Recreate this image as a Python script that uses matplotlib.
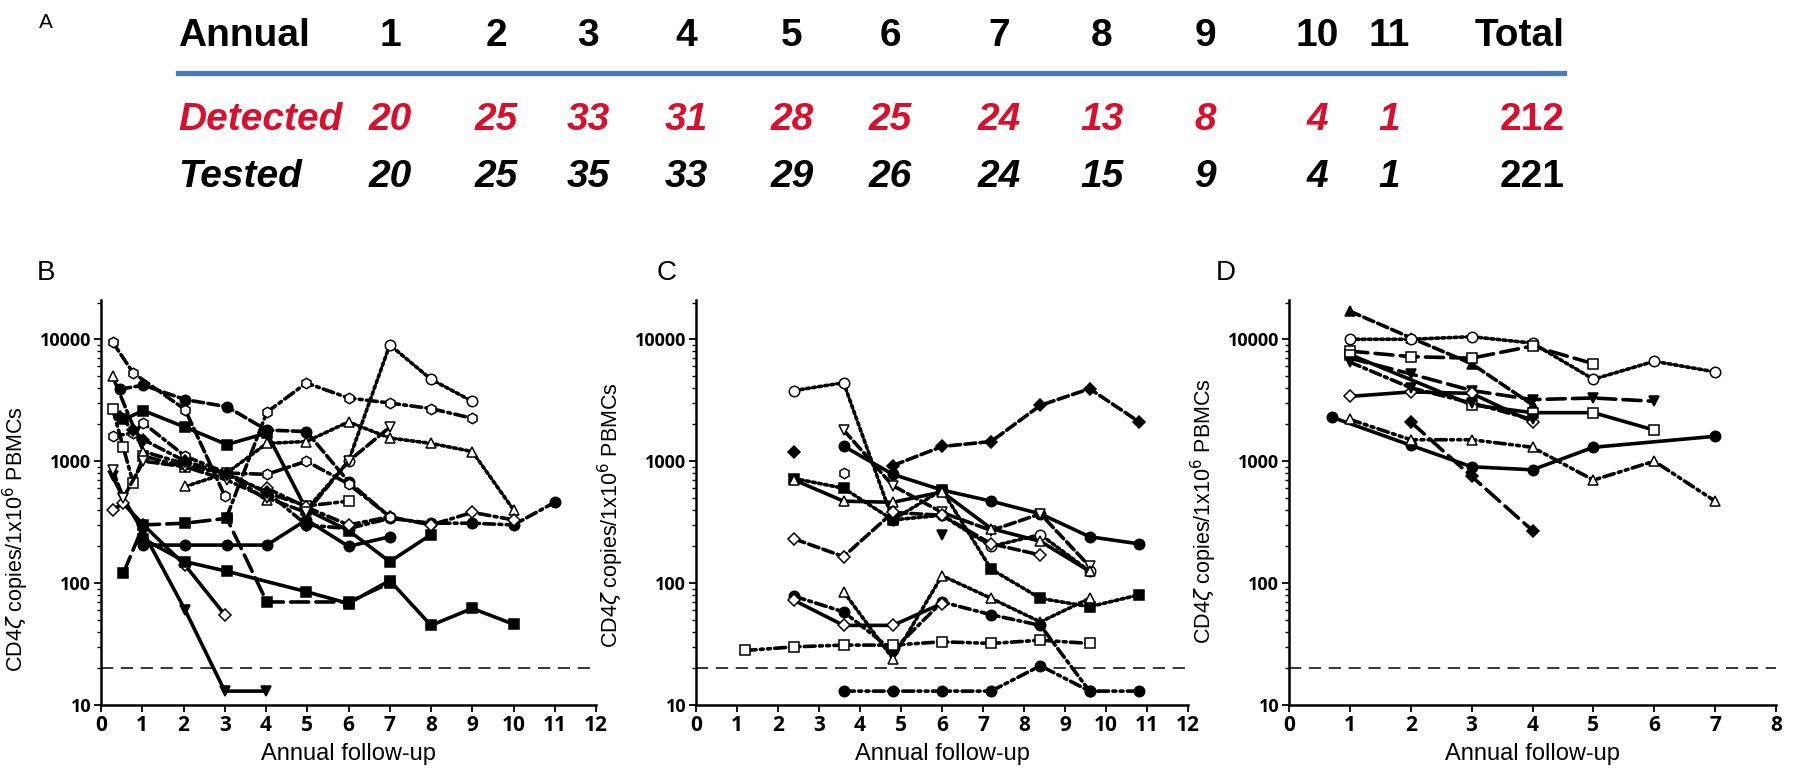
import matplotlib.pyplot as plt

# ---- panel A table ----
years = ['1', '2', '3', '4', '5', '6', '7', '8', '9', '10', '11']
detected = [20, 25, 33, 31, 28, 25, 24, 13, 8, 4, 1]
tested = [20, 25, 35, 33, 29, 26, 24, 15, 9, 4, 1]
detected_total = 212
tested_total = 221

# ---- panel B: x = years, y = copies per 1e6 PBMC ----
b_x = [
    [0.28, 0.78, 2.04, 3.0],
    [3.05, 4.02, 4.98, 6.0, 7.0, 8.0, 9.0],
    [4.98, 6.0, 7.0, 8.0, 9.0],
    [2.04, 3.05, 4.02, 4.98, 6.0, 7.0, 8.0, 9.0, 10.0],
    [0.46, 1.03, 2.04, 3.05, 4.02, 4.98, 6.0, 7.0],
    [0.54, 1.03, 2.04, 3.05, 4.02, 4.98, 6.0, 7.0, 8.0],
    [0.28, 0.54, 0.78, 1.03, 2.04, 3.05, 4.02, 4.98, 6.0],
    [4.98, 6.0, 7.0, 8.0, 9.0, 10.0, 11.0],
    [4.02, 4.98, 6.0, 7.0, 8.0, 9.0, 10.0],
    [1.03, 2.04, 3.05, 4.02, 4.98, 6.0, 7.0],
    [0.28, 0.54, 1.03, 2.04, 3.0, 4.0],
    [0.28, 0.54, 1.03, 2.04, 3.0],
    [0.54, 1.03, 2.04, 3.05, 4.02, 6.0, 7.0],
    [1.03, 2.04, 3.05, 4.98, 6.0, 7.0, 8.0, 9.0, 10.0],
    [0.28, 1.03, 2.04, 3.05, 4.02],
    [0.28, 0.78, 1.03, 2.04, 3.05, 4.02, 4.98, 6.0, 7.0],
    [0.28, 0.54, 1.03, 2.04, 3.05, 4.02, 4.98, 6.0, 7.0],
    [0.46, 0.78, 1.03, 2.04, 3.05, 4.02, 4.98],
]
b_y = [
    [9500, 5300, 2650, 520],
    [350, 2520, 4380, 3300, 3000, 2700, 2250],
    [400, 1000, 9000, 4700, 3100],
    [620, 800, 1400, 1450, 2100, 1550, 1400, 1200, 400],
    [3900, 4200, 3200, 2800, 1800, 1750, 680, 350],
    [2200, 2600, 1900, 1370, 1700, 400, 270, 150, 250],
    [2700, 1300, 660, 1100, 900, 800, 550, 430, 470],
    [300, 280, 340, 310, 310, 300, 460],
    [600, 420, 300, 350, 300, 380, 330],
    [205, 205, 205, 205, 330, 200, 240],
    [750, 500, 260, 60, 13, 13],
    [400, 450, 300, 140, 55],
    [120, 300, 310, 340, 70, 70, 100],
    [230, 150, 125, 85, 68, 105, 45, 62, 46],
    [5000, 1200, 950, 800, 480],
    [1600, 1700, 2050, 1100, 800, 780, 1000, 650, 350],
    [850, 500, 1000, 900, 700, 500, 380, 1000, 1900],
    [2300, 1800, 1500, 1000, 780, 560, 300],
]
b_mk = ['h', 'h', 'o', '^', 'o', 's', 's', 'o', 'D', 'o', 'v', 'D', 's', 's', '^', 'h', 'v', 'D']
b_open = [1, 1, 1, 1, 0, 0, 1, 0, 1, 0, 0, 1, 0, 0, 1, 1, 1, 0]
b_ls = ['dash', 'dashdot', 'dot', 'dot', 'dash', 'solid', 'dashdot', 'dashdot', 'dashdot',
        'solid', 'solid', 'solid', 'longdash', 'solid', 'dashdot', 'dashdot', 'dash', 'dashdot']

# ---- panel C ----
c_x = [
    [2.4, 3.6, 4.8, 6.0, 7.2, 8.4, 9.6],
    [4.8, 6.0, 7.2, 8.4, 9.6, 10.8],
    [2.4],
    [3.6, 4.8, 6.0, 7.2, 8.4, 9.6, 10.8],
    [3.6, 4.8, 6.0, 7.2, 8.4, 9.6],
    [2.4, 3.6, 4.8, 6.0, 7.2, 8.4, 9.6, 10.8],
    [2.4, 3.6, 4.8, 6.0, 7.2, 8.4, 9.6],
    [2.4, 3.6, 4.8, 6.0, 7.2, 8.4],
    [3.6, 4.8, 6.0, 7.2, 8.4, 9.6],
    [2.4, 3.6, 4.8, 6.0, 7.2, 8.4, 9.6],
    [2.4, 3.6, 4.8, 6.0],
    [1.2, 2.4, 3.6, 4.8, 6.0, 7.2, 8.4, 9.6],
    [3.6, 4.8, 6.0, 7.2, 8.4, 9.6, 10.8],
    [3.6],
    [6.0],
]
c_y = [
    [3800, 4400, 330, 360, 200, 250, 125],
    [920, 1320, 1450, 2870, 3930, 2110],
    [1200],
    [1330, 780, 580, 470, 370, 240, 210],
    [1800, 630, 380, 270, 370, 137],
    [720, 600, 330, 580, 130, 75, 64, 80],
    [700, 470, 460, 560, 280, 220, 125],
    [230, 165, 380, 360, 210, 170],
    [85, 24, 115, 75, 48, 75],
    [78, 58, 28, 70, 55, 45, 13],
    [72, 45, 45, 68],
    [28, 30, 31, 31, 33, 32, 34, 32],
    [13, 13, 13, 13, 21, 13, 13],
    [800],
    [250],
]
c_mk = ['o', 'D', 'D', 'o', 'v', 's', '^', 'D', '^', 'o', 'D', 's', 'o', 'h', 'v']
c_open = [1, 0, 0, 0, 1, 0, 1, 1, 1, 0, 1, 1, 0, 1, 0]
c_ls = ['dot', 'dash', 'solid', 'solid', 'dash', 'dot', 'solid', 'dash', 'dot',
        'dashdot', 'solid', 'dashdotdot', 'dashdotdot', 'solid', 'solid']

# ---- panel D ----
d_x = [
    [1, 2, 3, 4],
    [1, 2, 3, 4, 5, 6, 7],
    [1, 2, 3, 4, 5],
    [1, 2, 3, 4, 5, 6],
    [1, 2, 3, 4],
    [1, 3, 4, 5, 6],
    [0.7, 2, 3, 4, 5, 7],
    [1, 2, 3, 4, 5, 6, 7],
    [2, 3, 4],
    [1, 2, 3, 4],
]
d_y = [
    [17000, 10300, 6300, 2900],
    [10000, 10000, 10500, 9300, 4700, 6600, 5400],
    [8000, 7200, 7000, 8800, 6300],
    [7000, 5200, 3800, 3200, 3300, 3100],
    [3400, 3700, 3600, 2100],
    [7500, 2900, 2500, 2500, 1800],
    [2300, 1350, 900, 850, 1300, 1600],
    [2200, 1500, 1500, 1300, 700, 1000, 470],
    [2100, 750, 270],
    [6500, 4000, 3000, 2200],
]
d_mk = ['^', 'o', 's', 'v', 'D', 's', 'o', '^', 'D', 'v']
d_open = [0, 1, 1, 0, 1, 1, 0, 1, 0, 0]
d_ls = ['dash', 'dot', 'longdash', 'longdash', 'solid', 'solid', 'solid', 'dashdotdot', 'longdash', 'dashdot']

threshold = 20

styles = {
    'solid': '-',
    'dash': (0, (3, 1.2)),
    'longdash': (0, (5, 2)),
    'dot': (0, (0.8, 0.9)),
    'dashdot': (0, (3, 1.2, 0.8, 1.2)),
    'dashdotdot': (0, (3, 1.2, 0.8, 1.2, 0.8, 1.2)),
}

fig = plt.figure(figsize=(18, 7.71), dpi=100)
W, H = 1800, 771

# ---- table (panel A) ----
tf = 'Liberation Sans'
red = '#d9102d'
col_x = [390, 496, 588, 686, 792, 890, 999, 1102, 1205, 1317, 1389]
row_y = [36, 120, 177]
fs = 28
fig.text(46 / W, 1 - 22 / H, 'A', fontsize=15, family=tf, va='center', ha='center')
fig.text(178 / W, 1 - row_y[0] / H, 'Annual', fontsize=fs, fontweight='bold', family=tf, va='center')
fig.text(178 / W, 1 - row_y[1] / H, 'Detected', fontsize=fs, fontweight='bold', style='italic',
         color=red, family=tf, va='center')
fig.text(178 / W, 1 - row_y[2] / H, 'Tested', fontsize=fs, fontweight='bold', style='italic',
         family=tf, va='center')
for xp, yr, d, t in zip(col_x, years, detected, tested):
    fig.text(xp / W, 1 - row_y[0] / H, yr, fontsize=fs, fontweight='bold', family=tf,
             ha='center', va='center')
    fig.text(xp / W, 1 - row_y[1] / H, str(d), fontsize=fs, fontweight='bold', style='italic',
             color=red, family=tf, ha='center', va='center')
    fig.text(xp / W, 1 - row_y[2] / H, str(t), fontsize=fs, fontweight='bold', style='italic',
             family=tf, ha='center', va='center')
fig.text(1565 / W, 1 - row_y[0] / H, 'Total', fontsize=fs, fontweight='bold', family=tf,
         ha='right', va='center')
fig.text(1565 / W, 1 - row_y[1] / H, str(detected_total), fontsize=fs, fontweight='bold',
         color=red, family=tf, ha='right', va='center')
fig.text(1565 / W, 1 - row_y[2] / H, str(tested_total), fontsize=fs, fontweight='bold',
         family=tf, ha='right', va='center')
fig.add_artist(plt.Line2D([178 / W, 1564 / W], [1 - 73 / H, 1 - 73 / H], color='#4a7cba', lw=3.8))

# ---- plots ----
panels = [
    ('B', 101, 596, 12, 46, 0.41, b_x, b_y, b_mk, b_open, b_ls),
    ('C', 696, 1188, 12, 667, 0.47, c_x, c_y, c_mk, c_open, c_ls),
    ('D', 1289, 1776, 8, 1226, 0.48, d_x, d_y, d_mk, d_open, d_ls),
]
for lab, x0, x1, xmax, labx, ylab_y, xs, ys, mks, opens, lss in panels:
    ax = fig.add_axes([x0 / W, 1 - 705 / H, (x1 - x0) / W, (705 - 300) / H])
    ax.set_yscale('log')
    ax.set_xlim(0, xmax)
    ax.set_ylim(10, 21000)
    ax.axhline(threshold, color='k', lw=1.1, ls=(0, (8, 5)), zorder=1)
    for x, y, m, o, s in zip(xs, ys, mks, opens, lss):
        ax.plot(x, y, color='k', lw=2.6, ls=styles[s], marker=m, ms=7.5 if m != 'D' else 6.5,
                mfc='white' if o else 'k', mec='k', mew=1.1, dash_capstyle='round', zorder=2)
    for sp in ['top', 'right']:
        ax.spines[sp].set_visible(False)
    ax.spines['left'].set_linewidth(1.8)
    ax.spines['bottom'].set_linewidth(1.8)
    ax.set_xticks(range(xmax + 1))
    ax.set_yticks([10, 100, 1000, 10000])
    ax.set_yticklabels(['10', '100', '1000', '10000'])
    ax.tick_params(axis='both', which='major', direction='out', length=5, width=1.3, pad=2)
    ax.tick_params(axis='y', which='minor', direction='out', length=3, width=1)
    for t in ax.get_yticklabels():
        t.set_fontfamily('Open Sans')
        t.set_fontweight('bold')
        t.set_fontsize(13)
    for t in ax.get_xticklabels():
        t.set_fontfamily('Open Sans')
        t.set_fontweight('bold')
        t.set_fontsize(15)
    ax.set_xlabel('Annual follow-up', fontsize=17, family='Liberation Sans', labelpad=5)
    ax.set_ylabel('CD4$\\zeta$ copies/1x10$^{6}$ PBMCs', fontsize=15.5, family='Liberation Sans')
    ax.yaxis.set_label_coords(-70 / (x1 - x0), ylab_y)
    ax.set_facecolor('none')
    fig.text(labx / W, 1 - 273 / H, lab, fontsize=20, family='Liberation Sans', ha='center', va='center')

fig.savefig('out.png', dpi=100)
